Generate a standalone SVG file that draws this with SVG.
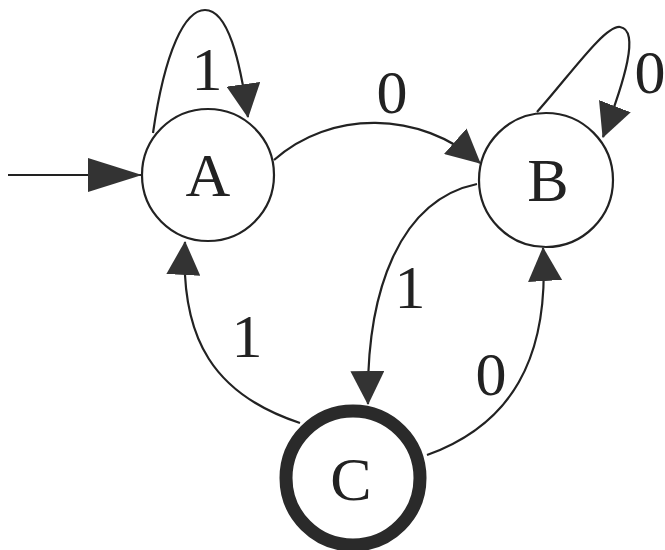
<svg xmlns="http://www.w3.org/2000/svg" width="665" height="550" viewBox="0 0 665 550">
<defs>
<style>
.state{fill:#fff;stroke:#222;stroke-width:2.2}
.final{fill:#fff;stroke:#2a2a2a;stroke-width:13}
.edge{fill:none;stroke:#222;stroke-width:2.2}
.lbl{font-family:"Liberation Serif","Times New Roman",serif;font-size:62px;fill:#222;text-anchor:middle}
</style>
<marker id="ah" markerUnits="userSpaceOnUse" viewBox="0 0 34 34" markerWidth="34" markerHeight="34" refX="33" refY="17" orient="auto">
<path d="M0,0 L34,17 L0,34 z" fill="#333"/>
</marker>
<marker id="ahlong" markerUnits="userSpaceOnUse" viewBox="0 0 54 34" markerWidth="54" markerHeight="34" refX="53" refY="17" orient="auto">
<path d="M0,0 L54,17 L0,34 z" fill="#333"/>
</marker>
</defs>
<rect width="665" height="550" fill="#fff"/>
<g id="connectors">
<path class="edge" d="M8,175 L141,175" marker-end="url(#ahlong)"/>
<path id="A-A" class="edge" d="M153,133 C165,50 185,10 205,10 C228,10 240,60 248,117" marker-end="url(#ah)"/>
<path id="A-B" class="edge" d="M274,160 C330,110 420,110 480,163" marker-end="url(#ah)"/>
<path id="B-B" class="edge" d="M537,112 C570,75 605,25 620,27 C640,30 625,80 603,137" marker-end="url(#ah)"/>
<path id="B-C" class="edge" d="M477,184 C400,200 366,290 368,404" marker-end="url(#ah)"/>
<path id="C-A" class="edge" d="M300,423 C215,395 180,340 185,242" marker-end="url(#ah)"/>
<path id="C-B" class="edge" d="M427,455 C510,425 550,360 543,248" marker-end="url(#ah)"/>
<text class="lbl" x="207" y="90">1</text>
<text class="lbl" x="392" y="113">0</text>
<text class="lbl" x="650" y="93">0</text>
<text class="lbl" x="410" y="308">1</text>
<text class="lbl" x="247" y="357">1</text>
<text class="lbl" x="491" y="395">0</text>
</g>
<g id="A">
<circle class="state" cx="208" cy="175" r="66"/>
<text class="lbl" x="208" y="196">A</text>
</g>
<g id="B">
<circle class="state" cx="546" cy="180" r="67"/>
<text class="lbl" x="548" y="201">B</text>
</g>
<g id="C">
<circle class="final" cx="353" cy="478" r="67"/>
<text class="lbl" x="351" y="500">C</text>
</g>
</svg>
